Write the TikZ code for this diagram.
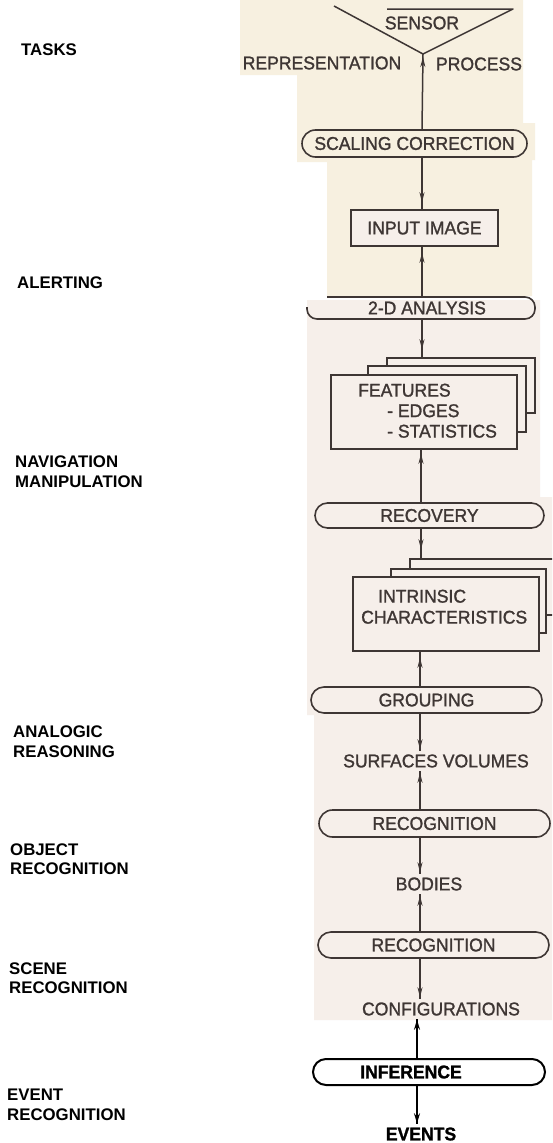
\documentclass[tikz,border=0pt]{standalone}
\usepackage{fontspec}
\setmainfont{Liberation Sans}
\newfontfamily\diafont[FakeStretch=0.95,FakeBold=1.3]{Liberation Sans}
\usetikzlibrary{shapes.misc,decorations.markings,arrows.meta}

\definecolor{paperA}{RGB}{247,240,224}
\definecolor{paperB}{RGB}{246,239,234}
\definecolor{ink}{RGB}{62,54,52}

\tikzset{
  side/.style={anchor=west, align=left, inner sep=0pt,
    font=\fontsize{16.8}{19.5}\selectfont\bfseries, text=black},
  dtext/.style={font=\diafont\fontsize{18.5}{21}\selectfont, text=ink, inner sep=3pt},
  proc/.style={rounded rectangle, draw=ink, line width=1.6pt, dtext, inner sep=0pt},
  dbox/.style={rectangle, draw=ink, line width=1.5pt, fill=paperB, inner sep=0pt},
  link/.style={draw=ink, color=ink, line width=1.5pt},
  boldlink/.style={draw=black, color=black, line width=2pt},
  into/.style={postaction={decorate, decoration={markings,
      mark=at position -#1 with {\arrow{Stealth[length=10pt,width=5pt]}}}}},
  bolinto/.style={postaction={decorate, decoration={markings,
      mark=at position -#1 with {\arrow{Stealth[length=10pt,width=6pt]}}}}},
}

\begin{document}
\begin{tikzpicture}[x=1pt,y=-1pt]
\clip (0,0) rectangle (552,1143);
\fill[white] (0,0) rectangle (552,1143);

% paper patches behind the column
\fill[paperA] (240,0) -- (523,0) -- (523,123) -- (535,123) -- (535,160)
  -- (532,160) -- (532,296) -- (327,296) -- (327,162) -- (297,162)
  -- (297,75) -- (240,75) -- cycle;
\fill[paperB] (307,300) -- (540,300) -- (540,497) -- (552,497) -- (552,1020)
  -- (314,1020) -- (314,715) -- (307,715) -- cycle;

% task labels
\node[side] (tasks) at (21,50) {TASKS};
\node[side] (alert) at (17,283) {ALERTING};
\node[side] (navig) at (15,471.5) {NAVIGATION\\MANIPULATION};
\node[side] (analog) at (13,741.5) {ANALOGIC\\REASONING};
\node[side] (objrec) at (10,859) {OBJECT\\RECOGNITION};
\node[side] (scnrec) at (9,978) {SCENE\\RECOGNITION};
\node[side] (evtrec) at (7,1105) {EVENT\\RECOGNITION};

% sensor
\coordinate (apex) at (423,54);
\draw[ink, line width=1.5pt, line join=round] (387,9) -- (513,9) -- (apex) -- (334,6);
\node[dtext] (sensor) at (422,23) {SENSOR};
\node[dtext] (repr) at (322,63) {REPRESENTATION};
\node[dtext] (proc) at (479,64) {PROCESS};

% axis of the column
\coordinate (ax1) at (422,0);
\coordinate (ax2) at (421,0);
\coordinate (ax3) at (420,0);
\coordinate (ax4) at (417,0);

% processing stages
\node[proc, minimum width=225pt, minimum height=27pt] (scal) at (414.5,143.5) {SCALING CORRECTION};
\node[dbox, minimum width=147pt, minimum height=36pt, dtext, inner sep=0pt] (img) at (424.5,228) {INPUT IMAGE};

\node[dtext, minimum height=22pt] (ana) at (427,308) {2-D ANALYSIS};
\draw[ink, line width=1.6pt, rounded corners=10pt]
  (327,297) -- (535,297) -- (535,319) -- (307,319) -- (307,307);

% feature sheets
\node[dbox, minimum width=148pt, minimum height=55pt] (feat3) at (461,385.5) {};
\node[dbox, minimum width=158pt, minimum height=66pt] (feat2) at (447,399) {};
\node[dbox, minimum width=186pt, minimum height=74pt] (feat1) at (424,412) {};
\node[dtext, inner sep=0pt, anchor=north west, align=left,
  font=\diafont\fontsize{18.5}{20.5}\selectfont] (featlab) at (358,383.5)
  {FEATURES\\\hspace*{29pt}- EDGES\\\hspace*{29pt}- STATISTICS};

\node[proc, minimum width=229pt, minimum height=25pt] (recv) at (429.5,515.5) {RECOVERY};

% intrinsic sheets
\node[dbox, minimum width=150pt, minimum height=56pt] (intr3) at (485,587) {};
\node[dbox, minimum width=155pt, minimum height=64pt] (intr2) at (468.5,601) {};
\node[dbox, minimum width=186pt, minimum height=74pt] (intr1) at (446,614) {};
\node[dtext, inner sep=0pt, anchor=north west, align=left] (intrlab) at (361,589.5)
  {\hspace*{17pt}INTRINSIC\\CHARACTERISTICS};

\node[proc, minimum width=231pt, minimum height=26pt] (grp) at (426.5,700) {GROUPING};
\node[dtext] (surf) at (436,761) {SURFACES VOLUMES};
\node[proc, minimum width=231pt, minimum height=27pt] (rec1) at (434.5,823.5) {RECOGNITION};
\node[dtext] (bod) at (429,884) {BODIES};
\node[proc, minimum width=231pt, minimum height=26pt] (rec2) at (433.5,945) {RECOGNITION};
\node[dtext] (conf) at (441,1009) {CONFIGURATIONS};

\node[rounded rectangle, draw=black, line width=2pt, inner sep=0pt,
  minimum width=232pt, minimum height=26pt, text=black,
  font=\diafont\fontsize{18.5}{21}\selectfont\bfseries] (inf) at (429,1072)
  {INFERENCE\hspace*{36pt}};
\node[dtext, text=black, font=\diafont\fontsize{18.5}{21}\selectfont\bfseries] (ev) at (421,1134) {EVENTS};

% connectors
\draw[link, into=3pt] (scal.north -| ax1) -- (apex);
\draw[link, into=7pt] (scal.south -| ax1) -- (img.north -| ax1);
\draw[link, into=6pt] (ana.north -| ax1) -- (img.south -| ax1);
\draw[link, into=8pt] (ana.south -| ax1) -- (feat3.north -| ax1);
\draw[link, into=4pt] (recv.north -| ax2) -- (feat1.south -| ax2);
\draw[link, into=9pt] (recv.south -| ax2) -- (intr3.north -| ax2);
\draw[link, into=6pt] (grp.north -| ax3) -- (intr1.south -| ax3);
\draw[link, into=2pt] (grp.south -| ax3) -- (surf.north -| ax3);
\draw[link, into=2pt] (rec1.north -| ax3) -- (surf.south -| ax3);
\draw[link, into=2pt] (rec1.south -| ax3) -- (bod.north -| ax3);
\draw[link, into=2pt] (rec2.north -| ax3) -- (bod.south -| ax3);
\draw[link, into=2pt] (rec2.south -| ax3) -- (conf.north -| ax3);
\draw[boldlink, bolinto=1pt] (inf.north -| ax4) -- (conf.south -| ax4);
\draw[boldlink, bolinto=1pt] (inf.south -| ax4) -- (ev.north -| ax4);
\end{tikzpicture}
\end{document}
